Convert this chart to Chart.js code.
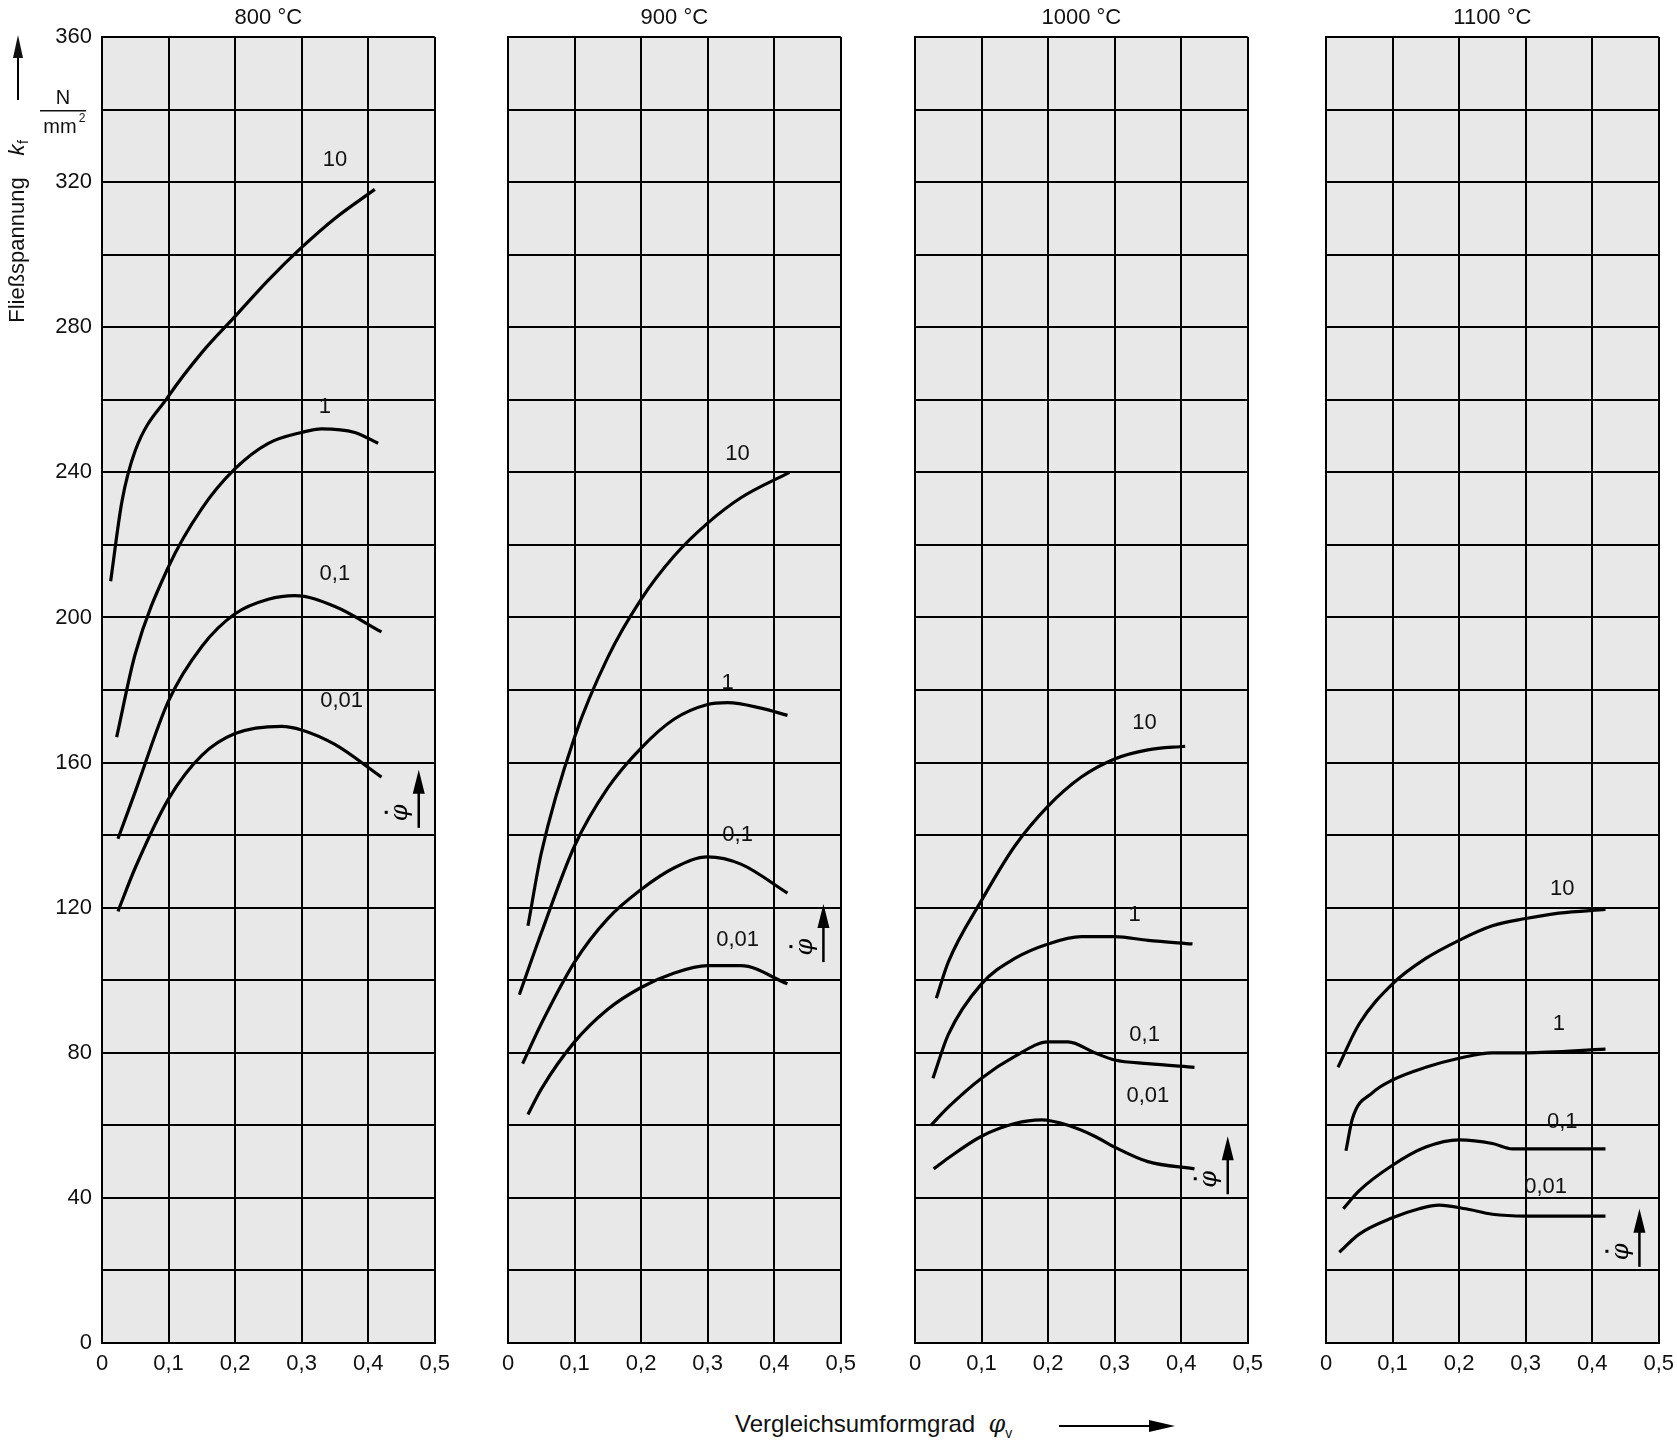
<!DOCTYPE html>
<html>
<head>
<meta charset="utf-8">
<script src="https://cdn.jsdelivr.net/npm/chart.js@4"></script>
<style>
  body { margin: 0; background: #fff; width: 1677px; height: 1441px; position: relative; overflow: hidden; font-family: "Liberation Sans", Arial, sans-serif; }
  canvas { position: absolute; top: 0; }
  #xtitle { position: absolute; left: 735px; top: 1410px; font-size: 24px; color: #111; font-weight: 300; }
  #xtitle i { font-family: "DejaVu Serif", serif; }
</style>
</head>
<body>
<canvas id="c0"></canvas>
<canvas id="c1"></canvas>
<canvas id="c2"></canvas>
<canvas id="c3"></canvas>
<div id="xtitle">Vergleichsumformgrad&nbsp;&nbsp;<i>φ</i><sub style="font-size:14px">v</sub>
  <span style="display:inline-block;width:90px;height:2px;background:#000;vertical-align:middle;margin-left:40px;"></span><span style="display:inline-block;width:0;height:0;border-left:26px solid #000;border-top:6px solid transparent;border-bottom:6px solid transparent;vertical-align:middle;"></span>
</div>
<script>
const temperatures = ["800 °C", "900 °C", "1000 °C", "1100 °C"];
const rateLabels = ["10", "1", "0,1", "0,01"];
const xTicks = [0, 0.1, 0.2, 0.3, 0.4, 0.5];

// [phi, kf] per rate, per temperature
const curves800 = [
  [[0.013,210],[0.03,232],[0.05,246],[0.1,261],[0.15,273],[0.2,283],[0.25,293],[0.3,302],[0.35,310],[0.41,318]],
  [[0.022,167],[0.05,190],[0.1,214],[0.15,230],[0.2,241],[0.25,248],[0.3,251],[0.33,252],[0.38,251],[0.415,248]],
  [[0.024,139],[0.05,152],[0.1,177],[0.15,192],[0.2,201],[0.25,205],[0.29,206],[0.35,203],[0.42,196]],
  [[0.024,119],[0.05,131],[0.1,150],[0.15,162],[0.2,168],[0.27,170],[0.3,169],[0.35,165],[0.42,156]]
];
const curves900 = [
  [[0.03,115],[0.05,135],[0.1,167],[0.15,189],[0.2,205],[0.25,217],[0.3,226],[0.35,233],[0.423,240]],
  [[0.017,96],[0.05,113],[0.1,137],[0.15,153],[0.2,164],[0.25,172],[0.3,176],[0.33,176.5],[0.38,175],[0.42,173]],
  [[0.022,77],[0.05,88],[0.1,105],[0.15,117],[0.2,125],[0.25,131],[0.3,134],[0.35,132],[0.42,124]],
  [[0.03,63],[0.05,70],[0.1,83],[0.15,92],[0.2,98],[0.25,102],[0.3,104],[0.35,104],[0.42,99]]
];
const curves1000 = [
  [[0.032,95],[0.05,105],[0.1,122],[0.15,137],[0.2,148],[0.25,156],[0.3,161],[0.35,163.5],[0.406,164.5]],
  [[0.027,73],[0.05,85],[0.1,99],[0.15,106],[0.2,110],[0.25,112],[0.3,112],[0.35,111],[0.417,110]],
  [[0.024,60],[0.05,65],[0.1,73],[0.15,79],[0.2,83],[0.23,83],[0.27,80],[0.3,78],[0.35,77],[0.42,76]],
  [[0.028,48],[0.05,51],[0.1,57],[0.15,60.5],[0.19,61.5],[0.23,60],[0.27,57],[0.3,54],[0.35,50],[0.42,48]]
];
const curves1100 = [
  [[0.018,76],[0.05,88],[0.1,99],[0.15,106],[0.2,111],[0.25,115],[0.3,117],[0.35,118.5],[0.42,119.5]],
  [[0.03,53],[0.04,62],[0.07,69],[0.1,72.5],[0.15,76],[0.2,78.5],[0.25,80],[0.3,80],[0.42,81]],
  [[0.026,37],[0.05,42],[0.1,49],[0.15,54],[0.2,56],[0.25,55],[0.28,53.5],[0.35,53.5],[0.42,53.5]],
  [[0.02,25],[0.05,30],[0.1,34.5],[0.14,37],[0.17,38],[0.21,37],[0.25,35.5],[0.3,35],[0.42,35]]
];
const allCurves = [curves800, curves900, curves1000, curves1100];

// curve label anchors [phi, kf] per temperature
const labelAt = [
  [[0.35,323],[0.335,255],[0.35,209],[0.36,174]],
  [[0.345,242],[0.33,179],[0.345,137],[0.345,108]],
  [[0.345,168],[0.33,115],[0.345,82],[0.35,65]],
  [[0.355,122],[0.35,85],[0.355,58],[0.33,40]]
];
// phi-dot arrow [phi, kfFrom, kfTo]
const arrowAt = [[0.476,142,158],[0.474,105,121],[0.47,41,57],[0.471,21,37]];

const panelLeft = [102, 508, 915, 1326];
const panelWidth = 334;
const axisW = [102, 40, 40, 40];

const font = { family: "'Liberation Sans', Arial, sans-serif", size: 22 };

const decor = {
  id: "decor",
  beforeDraw(chart) {
    const { ctx, chartArea: a } = chart;
    ctx.save();
    ctx.fillStyle = "#e8e8e8";
    ctx.fillRect(a.left, a.top, a.right - a.left, a.bottom - a.top);
    ctx.restore();
  },
  afterDatasetsDraw(chart, args, opts) {
    const { ctx, chartArea: a, scales: { x, y } } = chart;
    const i = opts.idx;
    ctx.save();
    ctx.fillStyle = "#111";
    ctx.font = "22px " + font.family;
    ctx.textAlign = "center";
    ctx.textBaseline = "bottom";
    ctx.fillText(temperatures[i], (a.left + a.right) / 2, a.top - 8);
    labelAt[i].forEach((p, k) => {
      ctx.fillText(rateLabels[k], x.getPixelForValue(p[0]), y.getPixelForValue(p[1]));
    });
    // phi-dot arrow
    const [ax, y0, y1] = arrowAt[i];
    const px = x.getPixelForValue(ax), pb = y.getPixelForValue(y0), pt = y.getPixelForValue(y1);
    ctx.strokeStyle = "#000"; ctx.fillStyle = "#000"; ctx.lineWidth = 2.5;
    ctx.beginPath(); ctx.moveTo(px, pb); ctx.lineTo(px, pt + 20); ctx.stroke();
    ctx.beginPath(); ctx.moveTo(px, pt); ctx.lineTo(px - 6, pt + 24); ctx.lineTo(px + 6, pt + 24); ctx.fill();
    ctx.translate(px - 18, (pb + pt) / 2 + 14);
    ctx.rotate(-Math.PI / 2);
    ctx.font = "italic 24px 'DejaVu Serif', serif";
    ctx.textBaseline = "middle";
    ctx.fillText("φ", 0, 0);
    ctx.fillRect(-1, -16, 3, 3);
    ctx.restore();
    if (i === 0) {
      ctx.save();
      ctx.fillStyle = "#111"; ctx.strokeStyle = "#000";
      ctx.font = "22px " + font.family;
      ctx.translate(18, 250);
      ctx.rotate(-Math.PI / 2);
      ctx.textAlign = "center"; ctx.textBaseline = "middle";
      ctx.fillText("Fließspannung", 0, 0);
      ctx.font = "italic 22px " + font.family;
      ctx.fillText("k", 100, 0);
      ctx.font = "14px " + font.family;
      ctx.fillText("f", 108, 6);
      // arrow
      ctx.lineWidth = 2;
      ctx.beginPath(); ctx.moveTo(150, 0); ctx.lineTo(195, 0); ctx.stroke();
      ctx.beginPath(); ctx.moveTo(215, 0); ctx.lineTo(192, -5); ctx.lineTo(192, 5); ctx.fill();
      ctx.restore();
      ctx.save();
      ctx.fillStyle = "#111";
      ctx.font = "20px " + font.family;
      ctx.textAlign = "center";
      ctx.fillText("N", 63, 104);
      ctx.fillRect(40, 110, 46, 1.5);
      ctx.fillText("mm", 60, 133);
      ctx.font = "12px " + font.family;
      ctx.fillText("2", 82, 122);
      ctx.restore();
    }
  }
};

allCurves.forEach((curves, i) => {
  const cv = document.getElementById("c" + i);
  const w = panelWidth + axisW[i] + 22;
  cv.style.left = (panelLeft[i] - axisW[i]) + "px";
  cv.style.width = w + "px"; cv.style.height = "1400px";
  cv.width = w; cv.height = 1400;
  new Chart(cv, {
    type: "line",
    data: {
      datasets: curves.map((pts, k) => ({
        label: rateLabels[k],
        data: pts.map(p => ({ x: p[0], y: p[1] })),
        borderColor: "#000",
        borderWidth: 3.2,
        pointRadius: 0,
        cubicInterpolationMode: "monotone",
        fill: false
      }))
    },
    options: {
      responsive: false,
      animation: false,
      layout: { padding: { top: 37, right: 22, left: 0, bottom: 0 } },
      plugins: { legend: { display: false }, tooltip: { enabled: false }, decor: { idx: i } },
      scales: {
        x: {
          type: "linear", min: 0, max: 0.5,
          afterBuildTicks: s => { s.ticks = xTicks.map(v => ({ value: v })); },
          afterFit: s => { s.height = 57; },
          grid: { color: "#000", lineWidth: 2, drawTicks: false },
          border: { color: "#000", width: 2 },
          ticks: { color: "#111", font, padding: 8, maxRotation: 0,
            callback: v => String(Math.round(v * 10) / 10).replace(".", ",") }
        },
        y: {
          min: 0, max: 360,
          afterFit: s => { s.width = axisW[i]; },
          grid: { color: "#000", lineWidth: 2, drawTicks: false },
          border: { color: "#000", width: 2 },
          ticks: { stepSize: 20, color: "#111", font, padding: 10, display: i === 0,
            callback: v => (v % 40 === 0 ? String(v) : "") }
        }
      }
    },
    plugins: [decor]
  });
});
</script>
</body>
</html>
